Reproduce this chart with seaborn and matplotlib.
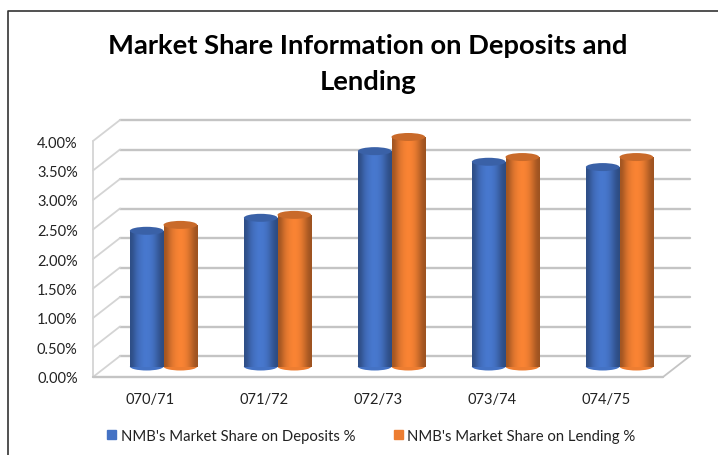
import numpy as np
import pandas as pd
import matplotlib
matplotlib.use("Agg")
import matplotlib.pyplot as plt
from matplotlib.lines import Line2D
from matplotlib.patches import Ellipse, Rectangle
from matplotlib.transforms import ScaledTranslation
import seaborn as sns

# ---------------- DATA ----------------
YEARS = ["070/71", "071/72", "072/73", "073/74", "074/75"]
DEPOSITS = [2.30, 2.52, 3.65, 3.47, 3.38]
LENDING = [2.40, 2.57, 3.89, 3.55, 3.55]
DEPOSITS_NAME = "NMB's Market Share on Deposits %"
LENDING_NAME = "NMB's Market Share on Lending %"
TITLE = "Market Share Information on Deposits and\nLending"
Y_TICKS = [0, 0.5, 1, 1.5, 2, 2.5, 3, 3.5, 4]
# --------------------------------------

W, H, DPI = 718, 456, 100
BLUE = "#4472c4"
ORANGE = "#ed7d31"
GRID = "#c4c4c4"
TEXT = "#222222"
DX, DY = 13.5, 10.5   # depth of the fake 3d box, pixels

sns.set_style("white")
plt.rcParams["font.family"] = ["Lato", "DejaVu Sans"]

df = pd.DataFrame({"year": YEARS * 2,
                   "share": DEPOSITS + LENDING,
                   "series": [DEPOSITS_NAME] * 5 + [LENDING_NAME] * 5})

fig = plt.figure(figsize=(W / DPI, H / DPI), dpi=DPI)
# axes is the middle depth plane of the box
ax = fig.add_axes([106.5 / W, (H - 367.5) / H, 570 / W, 236 / H])
sns.barplot(data=df, x="year", y="share", hue="series", dodge=True, width=0.59, gap=0,
            palette=[BLUE, ORANGE], saturation=1, ax=ax, legend=False, zorder=3)
ax.set_xlim(-0.5, 4.5)
ax.set_ylim(0, 4)
ax.set_xlabel("")
ax.set_ylabel("")
sns.despine(ax=ax, left=True, bottom=True)

back = ax.transData + ScaledTranslation(DX / DPI, DY / DPI, fig.dpi_scale_trans)
front = ax.transData + ScaledTranslation(-DX / DPI, -DY / DPI, fig.dpi_scale_trans)

# back wall, side wall and floor
for v in Y_TICKS:
    ax.plot([-0.5, 4.5], [v, v], transform=back, color=GRID, lw=1.7, clip_on=False, zorder=1)
    x0, y0 = front.transform((-0.5, v))
    x1, y1 = back.transform((-0.5, v))
    ax.plot([x0, x1], [y0, y1], transform=None, color="#d4d4d4", lw=1.3, clip_on=False, zorder=1)
ax.plot([-0.5, -0.5], [0, 4], transform=front, color="#d4d4d4", lw=1.3, clip_on=False, zorder=1)
ax.plot([-0.5, 4.5], [0, 0], transform=front, color=GRID, lw=1.7, clip_on=False, zorder=1)
x0, y0 = front.transform((4.5, 0))
x1, y1 = back.transform((4.5, 0))
ax.plot([x0, x1], [y0, y1], transform=None, color=GRID, lw=1.3, clip_on=False, zorder=1)

# turn the flat bars into cylinders
shade = np.array([0.68, 0.9, 1.0, 1.06, 1.05, 0.98, 0.82, 0.66])
for bar in list(ax.patches):
    x, w, h = bar.get_x(), bar.get_width(), bar.get_height()
    rgb = np.array(matplotlib.colors.to_rgb(bar.get_facecolor()))
    grad = np.clip(shade[:, None] * rgb, 0, 1)[None, :, :]
    ey = 8 / 59  # cap height in data units
    bar.set_visible(False)
    im = ax.imshow(grad, extent=[x, x + w, 0, h], aspect="auto", zorder=3,
                   interpolation="bicubic", origin="lower")
    body = Rectangle((x, 0), w, h, transform=ax.transData)
    im.set_clip_path(body)
    ax.add_patch(Ellipse((x + w / 2, 0), w, ey, facecolor=rgb, edgecolor="none", zorder=2.9, clip_on=False))
    ax.add_patch(Ellipse((x + w / 2, h), w, ey, facecolor=np.clip(rgb * 0.85, 0, 1),
                         edgecolor="none", zorder=3.1, clip_on=False))
ax.set_xlim(-0.5, 4.5)
ax.set_ylim(0, 4)

# tick labels belong to the front of the box
ax.set_yticks(Y_TICKS, [f"{v:.2f}%" for v in Y_TICKS])
ax.tick_params(axis="both", length=0, labelsize=10.5, labelcolor=TEXT)
ax.tick_params(axis="y", pad=11)
ax.tick_params(axis="x", pad=11)
shift = ScaledTranslation(-DX / DPI, -DY / DPI, fig.dpi_scale_trans)
for lab in ax.get_yticklabels() + ax.get_xticklabels():
    lab.set_transform(lab.get_transform() + shift)

fig.text(368 / W, (H - 64) / H, TITLE, ha="center", va="center", fontsize=19.7, fontweight="bold",
         color="black", linespacing=1.56)

handles = [Rectangle((0, 0), 1, 1, color=BLUE), Rectangle((0, 0), 1, 1, color=ORANGE)]
fig.legend(handles, [DEPOSITS_NAME, LENDING_NAME], loc="center", ncol=2, frameon=False,
           bbox_to_anchor=(371.5 / W, (H - 437) / H), fontsize=10.7, handlelength=0.6, handleheight=0.6,
           handletextpad=0.3, columnspacing=2.6, labelcolor=TEXT)

# chart border, only top and left are inside the crop
fig.add_artist(Line2D([7.5 / W, 7.5 / W, 1], [0, (H - 12) / H, (H - 12) / H], color="#333333", lw=1.2))

fig.savefig("out.png", dpi=DPI)
